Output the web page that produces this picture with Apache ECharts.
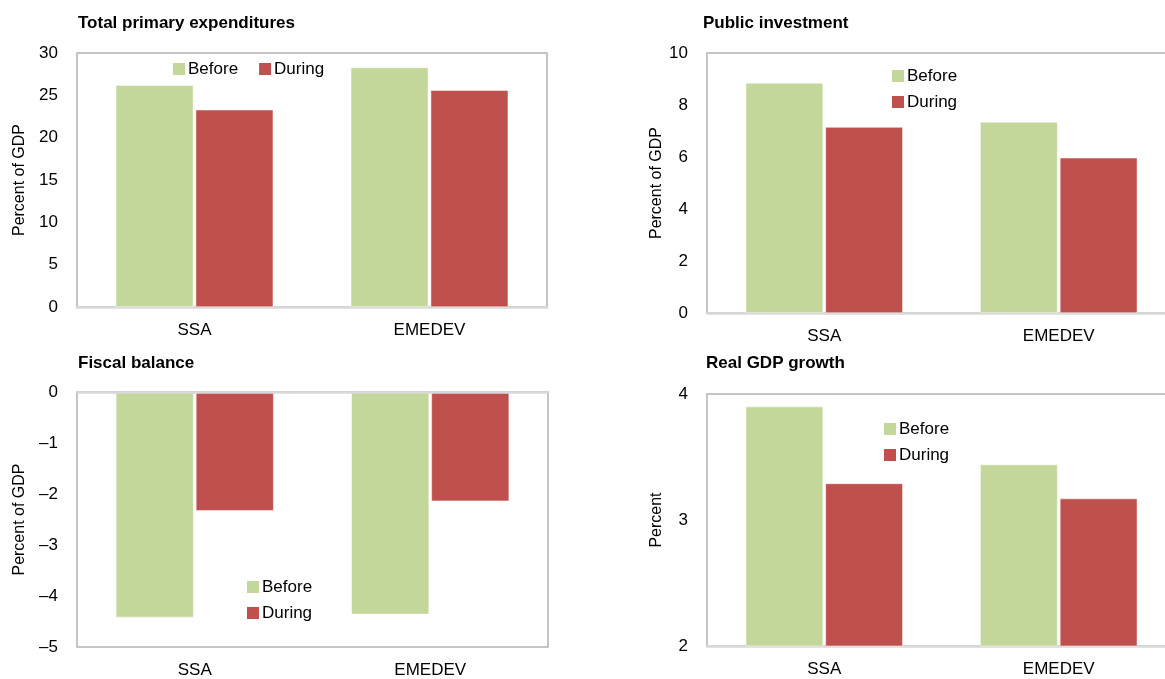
<!DOCTYPE html>
<html>
<head>
<meta charset="utf-8">
<script src="https://cdn.jsdelivr.net/npm/echarts@6/dist/echarts.min.js"></script>
<style>
  html, body { margin: 0; padding: 0; background: #fff; }
  #main { width: 1165px; height: 679px; }
</style>
</head>
<body>
<div id="main"></div>
<script>
var categories = ['SSA', 'EMEDEV'];

// Total primary expenditures, percent of GDP
var expBefore = [26.2, 28.3];
var expDuring = [23.3, 25.6];
// Public investment, percent of GDP
var invBefore = [8.85, 7.35];
var invDuring = [7.15, 5.97];
// Fiscal balance, percent of GDP
var balBefore = [-4.42, -4.36];
var balDuring = [-2.33, -2.14];
// Real GDP growth, percent
var gdpBefore = [3.90, 3.44];
var gdpDuring = [3.29, 3.17];

var panelTitles = ['Total primary expenditures', 'Public investment', 'Fiscal balance', 'Real GDP growth'];
var axisNames = ['Percent of GDP', 'Percent of GDP', 'Percent of GDP', 'Percent'];

var green = '#c4d79b';
var red = '#c0504d';
var font = "'Liberation Sans', Arial, sans-serif";

var myChart = echarts.init(document.getElementById('main'));

var grids = [
    {left: 77, top: 53, width: 470, height: 254},
    {left: 707, top: 53, width: 469, height: 260},
    {left: 77, top: 392, width: 471, height: 255},
    {left: 707, top: 394, width: 469, height: 252}
];
grids.forEach(function (g) {
    g.show = true;
    g.borderColor = '#b3b3b3';
    g.borderWidth = 1.5;
    g.backgroundColor = '#fff';
    g.containLabel = false;
    g.outerBoundsMode = 'none';
});

var yRanges = [
    {min: 0, max: 30, interval: 5},
    {min: 0, max: 10, interval: 2},
    {min: -5, max: 0, interval: 1},
    {min: 2, max: 4, interval: 1}
];

var xAxes = [], yAxes = [];
for (var i = 0; i < 4; i++) {
    xAxes.push({
        type: 'category',
        gridIndex: i,
        data: categories,
        position: 'bottom',
        axisLine: {show: i !== 2, onZero: false, lineStyle: {color: '#d9d9d9', width: 2.5}},
        axisTick: {show: false},
        axisLabel: {color: '#000', fontFamily: font, fontSize: 17, margin: 15}
    });
    yAxes.push({
        type: 'value',
        gridIndex: i,
        min: yRanges[i].min,
        max: yRanges[i].max,
        interval: yRanges[i].interval,
        name: axisNames[i],
        nameLocation: 'middle',
        nameRotate: 90,
        nameGap: i === 1 || i === 3 ? 42 : 49,
        nameTextStyle: {color: '#000', fontFamily: font, fontSize: 16},
        axisLine: {show: false},
        axisTick: {show: false},
        splitLine: {show: false},
        axisLabel: {
            color: '#000', fontFamily: font, fontSize: 17, margin: 19,
            formatter: function (v) { return String(v).replace('-', '\u2013'); }
        }
    });
}

var pairs = [[expBefore, expDuring], [invBefore, invDuring], [balBefore, balDuring], [gdpBefore, gdpDuring]];
var series = [];
pairs.forEach(function (p, i) {
    series.push({
        name: 'Before', type: 'bar', xAxisIndex: i, yAxisIndex: i,
        data: p[0], barGap: '3%', barCategoryGap: '33%',
        itemStyle: {color: green, borderColor: '#fff', borderWidth: 0.5}
    });
    var s = {
        name: 'During', type: 'bar', xAxisIndex: i, yAxisIndex: i,
        data: p[1], barGap: '3%', barCategoryGap: '33%',
        itemStyle: {color: red, borderColor: '#fff', borderWidth: 0.5}
    };
    if (i === 2) {
        s.markLine = {
            silent: true, symbol: 'none', label: {show: false},
            lineStyle: {color: '#d9d9d9', width: 2.5, type: 'solid'},
            data: [{yAxis: 0}]
        };
    }
    series.push(s);
});

var legendBase = {
    data: ['Before', 'During'],
    icon: 'rect',
    itemWidth: 12,
    itemHeight: 12,
    padding: 0,
    selectedMode: false,
    itemStyle: {borderWidth: 0},
    textStyle: {color: '#000', fontFamily: font, fontSize: 17, lineHeight: 20, padding: [0, 0, 0, -2]}
};
var legends = [
    Object.assign({}, legendBase, {orient: 'horizontal', left: 173, top: 59, itemGap: 21}),
    Object.assign({}, legendBase, {orient: 'vertical', left: 892, top: 66, itemGap: 6}),
    Object.assign({}, legendBase, {orient: 'vertical', left: 247, top: 577, itemGap: 6}),
    Object.assign({}, legendBase, {orient: 'vertical', left: 884, top: 419, itemGap: 6})
];

var titlePos = [[78, 15], [703, 15], [78, 355], [706, 355]];
var titles = panelTitles.map(function (t, i) {
    return {
        text: t, left: titlePos[i][0], top: titlePos[i][1], padding: 0,
        textStyle: {color: '#000', fontFamily: font, fontSize: 17, fontWeight: 'bold'}
    };
});

var option = {
    animation: false,
    title: titles,
    legend: legends,
    grid: grids,
    xAxis: xAxes,
    yAxis: yAxes,
    series: series
};
myChart.setOption(option);
</script>
</body>
</html>
